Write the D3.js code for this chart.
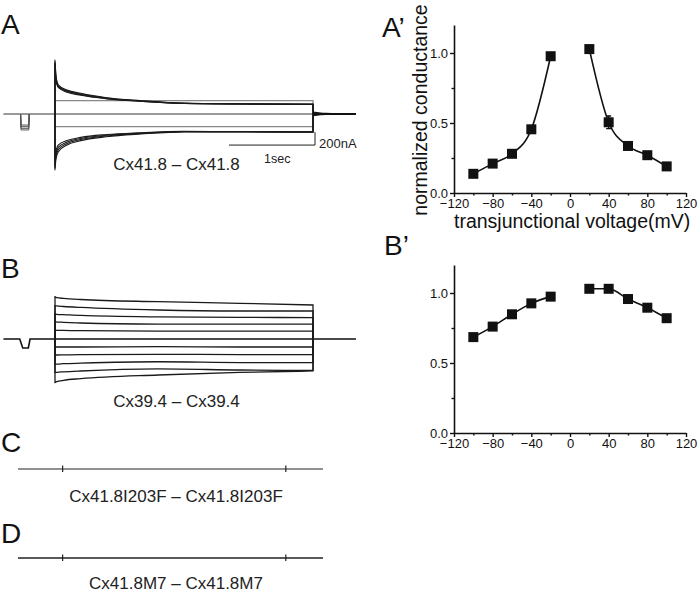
<!DOCTYPE html>
<html><head><meta charset="utf-8">
<script src="https://cdn.jsdelivr.net/npm/d3@7"></script>
<style>
html,body{margin:0;padding:0;background:#fff;}
svg{display:block;font-family:"Liberation Sans",Arial,sans-serif;}
</style></head><body>
<svg id="fig" width="700" height="593"></svg>
<script>
// ---------- conductance data (A', B') ----------
const voltages = [-100, -80, -60, -40, -20, 20, 40, 60, 80, 100];
const gA  = [0.137, 0.21, 0.28, 0.455, 0.977, 1.028, 0.505, 0.336, 0.27, 0.19];
const errA = [0.01, 0.01, 0.01, 0.02, 0.01, 0.01, 0.045, 0.01, 0.01, 0.01];
const gB  = [0.685, 0.76, 0.848, 0.926, 0.974, 1.03, 1.03, 0.957, 0.895, 0.82];
const xTickVals = [-120, -80, -40, 0, 40, 80, 120];
const xMinorVals = [-100, -60, -20, 20, 60, 100];
const yTickVals = [0, 0.5, 1.0];
const yMinorVals = [0.25, 0.75];

// ---------- current traces (nA vs s) ----------
const tSpan = [-0.6, 3.5];
const tStep = [0, 3];
// panel A (Cx41.8)
const tA = [0, 0.01, 0.04, 0.14, 0.3, 0.6, 1.0, 1.5, 2.2, 3.0];
const aUp1 = [830, 600, 446, 369, 318, 251, 205, 165, 154, 146];
const aUp2 = [800, 575, 432, 358, 308, 245, 201, 164, 154, 148];
const aUp3 = [780, 550, 418, 347, 298, 239, 197, 163, 155, 150];
const aUp4 = [760, 525, 404, 336, 288, 233, 194, 163, 156, 152];
const aDn1 = [-860, -700, -580, -477, -410, -350, -308, -275, -277, -281];
const aDn2 = [-830, -660, -545, -455, -392, -338, -300, -272, -274, -278];
const aDn3 = [-800, -620, -510, -432, -376, -327, -294, -270, -272, -275];
const aDn4 = [-770, -580, -475, -408, -360, -316, -288, -268, -270, -272];
const aFlat = [205, -195];
const tPreA = [-0.4, -0.395, -0.305, -0.3];
const aPreDips = [-170, -195, -220, -245];
const tTail = [3.0, 3.15, 3.5];
const aTailUp = [30, 10, 0];
const aTailDn = [-25, -8, 0];
// panel B (Cx39.4)
const tB = [0, 0.02, 0.1, 0.3, 1.2, 2.15, 3.0];
const bTraces = [
  [650, 635, 625, 608, 574, 549, 523],
  [515, 508, 500, 485, 446, 431, 431],
  [385, 380, 375, 362, 340, 333, 330],
  [265, 261, 257, 246, 230, 228, 228],
  [136, 134, 132, 128, 120, 120, 120],
  [-123, -123, -123, -123, -118, -123, -123],
  [-246, -246, -244, -241, -235, -240, -240],
  [-385, -385, -380, -372, -350, -362, -364],
  [-515, -512, -505, -492, -461, -477, -484],
  [-670, -657, -635, -610, -554, -515, -492]
];
const tPreB = [-0.41, -0.375, -0.31, -0.29];
const bPre = [0, -138, -138, 0];
// scale bar values
const scaleBarI = 200; // nA
const scaleBarT = 1;   // s
const scaleBarLevel = -478; // nA level where the time bar sits

// ---------- drawing ----------
const svg = d3.select("#fig");
const FONT = '"Liberation Sans", Arial, sans-serif';

const xT = d3.scaleLinear().domain(tSpan).range([3.4, 356]);
const yA = d3.scaleLinear().domain([-1000, 1000]).range([179, 49]);
const yB = d3.scaleLinear().domain([-1000, 1000]).range([404, 274]);
const xCD = d3.scaleLinear().domain(tSpan).range([18, 323]);

// ---- Panel A ----
{
  const g = svg.append("g");
  const line = d3.line().x(d => xT(d[0])).y(d => yA(d[1]));
  const smooth = d3.line().x(d => xT(d[0])).y(d => yA(d[1])).curve(d3.curveMonotoneX);
  g.append("path").attr("d", line([[tSpan[0], 0], [tSpan[1], 0]]))
    .attr("fill", "none").attr("stroke", "#777").attr("stroke-width", 1.3);
  aPreDips.forEach(v => {
    g.append("path").attr("d", line(tPreA.map((t, i) => [t, (i === 0 || i === 3) ? 0 : v])))
      .attr("fill", "none").attr("stroke", "#555").attr("stroke-width", 1);
  });
  aFlat.forEach(v => {
    g.append("path").attr("d", line([[tStep[0], 0], [tStep[0], v], [tStep[1], v], [tStep[1], 0]]))
      .attr("fill", "none").attr("stroke", "#888").attr("stroke-width", 1.3);
  });
  [aUp1, aUp2, aUp3, aUp4, aDn1, aDn2, aDn3, aDn4].forEach(v => {
    const pts = [[0, 0]].concat(tA.map((t, i) => [t, v[i]]));
    g.append("path").attr("d", smooth(pts) + "L" + xT(3) + "," + yA(0))
      .attr("fill", "none").attr("stroke", "#1a1a1a").attr("stroke-width", 1.1);
  });
  [aTailUp, aTailDn].forEach(v => {
    g.append("path").attr("d", smooth(tTail.map((t, i) => [t, v[i]])))
      .attr("fill", "none").attr("stroke", "#111").attr("stroke-width", 1.2);
  });
  g.append("path").attr("d", line([[3, 0], [3.5, 0]]))
    .attr("fill", "none").attr("stroke", "#111").attr("stroke-width", 2);
  // scale bars
  const x1 = xT(tStep[1]) + 2, y0 = yA(scaleBarLevel);
  const y1 = yA(scaleBarLevel + scaleBarI);
  const x0 = x1 - (xT(scaleBarT) - xT(0));
  g.append("path").attr("d", `M${x0},${y0}H${x1}V${y1}`)
    .attr("fill", "none").attr("stroke", "#222").attr("stroke-width", 1);
  g.append("text").attr("x", x1 + 4).attr("y", 148).text("200nA")
    .attr("font-size", 13).attr("fill", "#222");
  g.append("text").attr("x", 264).attr("y", 163).text("1sec")
    .attr("font-size", 12.5).attr("fill", "#222");
  g.append("text").attr("x", 176.5).attr("y", 170).attr("text-anchor", "middle")
    .attr("font-size", 17).attr("fill", "#222").text("Cx41.8 – Cx41.8");
}

// ---- Panel B ----
{
  const g = svg.append("g");
  const line = d3.line().x(d => xT(d[0])).y(d => yB(d[1]));
  const smooth = d3.line().x(d => xT(d[0])).y(d => yB(d[1])).curve(d3.curveMonotoneX);
  const basePts = [[tSpan[0], 0]].concat(tPreB.map((t, i) => [t, bPre[i]])).concat([[tSpan[1], 0]]);
  g.append("path").attr("d", line(basePts))
    .attr("fill", "none").attr("stroke", "#111").attr("stroke-width", 1.6);
  bTraces.forEach(v => {
    const pts = [[0, 0]].concat(tB.map((t, i) => [t, v[i]]));
    g.append("path").attr("d", smooth(pts) + "L" + xT(3) + "," + yB(0))
      .attr("fill", "none").attr("stroke", "#1a1a1a").attr("stroke-width", 1.3);
  });
  g.append("text").attr("x", 176.5).attr("y", 407).attr("text-anchor", "middle")
    .attr("font-size", 17).attr("fill", "#222").text("Cx39.4 – Cx39.4");
}

// ---- Panels C, D ----
function drawFlat(yLine, label, yLabel, sw) {
  const g = svg.append("g");
  g.append("line").attr("x1", xCD(tSpan[0])).attr("x2", xCD(tSpan[1]))
    .attr("y1", yLine).attr("y2", yLine).attr("stroke", "#222").attr("stroke-width", sw);
  tStep.forEach(t => {
    g.append("line").attr("x1", xCD(t)).attr("x2", xCD(t))
      .attr("y1", yLine - 3.5).attr("y2", yLine + 3).attr("stroke", "#222").attr("stroke-width", 1.2);
  });
  g.append("text").attr("x", 176).attr("y", yLabel).attr("text-anchor", "middle")
    .attr("font-size", 17).attr("fill", "#222").text(label);
}
drawFlat(469, "Cx41.8I203F – Cx41.8I203F", 502, 1.1);
drawFlat(558, "Cx41.8M7 – Cx41.8M7", 589, 1.5);

// ---- panel letters ----
[["A", 1, 34], ["B", 1, 278], ["C", 1, 452], ["D", 1, 543], ["A’", 382, 37], ["B’", 384, 255]]
  .forEach(([s, x, y]) => svg.append("text").attr("x", x).attr("y", y)
    .attr("font-size", 28).attr("fill", "#111").text(s));

// ---- conductance plots ----
function condPlot(y0, vals, errs, withTitles) {
  const x = d3.scaleLinear().domain([-120, 120]).range([454, 686]);
  const y = d3.scaleLinear().domain([0, 1.2]).range([y0, y0 - 168]);
  const g = svg.append("g");
  g.append("g").attr("transform", `translate(0,${y0})`)
    .call(d3.axisBottom(x).tickValues(xTickVals).tickSize(4).tickSizeOuter(0).tickPadding(1.5));
  g.append("g").attr("transform", `translate(0,${y0})`)
    .call(d3.axisBottom(x).tickValues(xMinorVals).tickSize(2.5).tickSizeOuter(0).tickFormat(""))
    .select(".domain").remove();
  g.append("g").attr("transform", "translate(454,0)")
    .call(d3.axisLeft(y).tickValues(yTickVals).tickFormat(d3.format(".1f")).tickSize(4).tickSizeOuter(0).tickPadding(2));
  g.append("g").attr("transform", "translate(454,0)")
    .call(d3.axisLeft(y).tickValues(yMinorVals).tickSize(2.5).tickSizeOuter(0).tickFormat(""))
    .select(".domain").remove();
  g.selectAll(".domain").attr("stroke", "#111").attr("stroke-width", 1.6);
  g.selectAll(".tick line").attr("stroke", "#111").attr("stroke-width", 1.4);
  g.selectAll(".tick text").attr("font-family", FONT).attr("font-size", 13).attr("fill", "#111");

  const line = d3.line().x(d => x(d[0])).y(d => y(d[1])).curve(d3.curveMonotoneX);
  const pts = voltages.map((v, i) => [v, vals[i]]);
  g.append("path").attr("d", line(pts.filter(p => p[0] < 0)))
    .attr("fill", "none").attr("stroke", "#111").attr("stroke-width", 1.6);
  g.append("path").attr("d", line(pts.filter(p => p[0] > 0)))
    .attr("fill", "none").attr("stroke", "#111").attr("stroke-width", 1.6);
  if (errs) {
    pts.forEach((p, i) => {
      const e = errs[i];
      g.append("path").attr("d", `M${x(p[0])},${y(p[1] - e)}V${y(p[1] + e)}M${x(p[0]) - 2.5},${y(p[1] - e)}h5M${x(p[0]) - 2.5},${y(p[1] + e)}h5`)
        .attr("stroke", "#111").attr("stroke-width", 1.3).attr("fill", "none");
    });
  }
  g.selectAll("rect.m").data(pts).join("rect").attr("class", "m")
    .attr("x", d => x(d[0]) - 5).attr("y", d => y(d[1]) - 5)
    .attr("width", 10).attr("height", 10).attr("fill", "#111");
  if (withTitles) {
    g.append("text").attr("transform", `translate(427,${y(0.6) + 1}) rotate(-90)`)
      .attr("text-anchor", "middle").attr("font-size", 19.5).attr("fill", "#111")
      .text("normalized conductance");
    g.append("text").attr("x", 454).attr("y", y0 + 35).attr("font-size", 19.5).attr("fill", "#111")
      .text("transjunctional voltage(mV)");
  }
}
condPlot(193, gA, errA, true);
condPlot(433, gB, null, false);
</script>
</body></html>
